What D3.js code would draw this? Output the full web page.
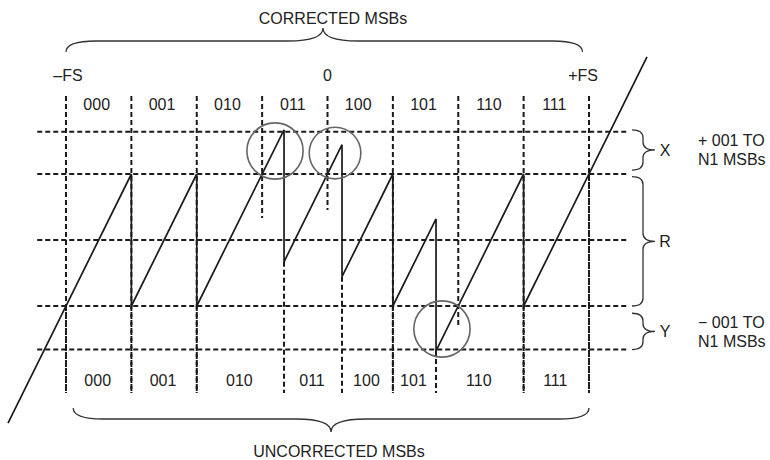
<!DOCTYPE html>
<html>
<head>
<meta charset="utf-8">
<script src="https://cdn.jsdelivr.net/npm/d3@7"></script>
<style>
  html, body { margin: 0; padding: 0; background: #fff; }
  svg text { font-family: "Liberation Sans", Arial, Helvetica, sans-serif; fill: #222; }
</style>
</head>
<body>
<svg id="chart" width="770" height="460"></svg>
<script>
// ---------------- data ----------------
const codeLabels = ["000", "001", "010", "011", "100", "101", "110", "111"];
// corrected (ideal) MSB decision boundaries, in units of one MSB step (-FS = -4, +FS = 4)
const correctedBounds = [-4, -3, -2, -1, 0, 1, 2, 3, 4];
// residue value where each corrected-boundary dashed line stops (bottom end)
const correctedLineEnds = [-0.66, -0.66, -0.66, 0.667, 0.727, -0.66, -0.167, -0.66, -0.66];
// actual (uncorrected) comparator thresholds
const uncorrectedBounds = [-4, -3, -2, -0.665, 0.222, 1, 1.66, 3, 4];
// transfer curve: segment ends (first and last are the ends of the drawn line)
const segmentEnds = [-4.887, -3, -2, -0.665, 0.222, 1, 1.66, 3, 4.887];
// residue offset subtracted in each segment (code value - 4)
const segmentOffsets = [-4, -3, -2, -1, 0, 1, 2, 3];
// horizontal dashed reference levels (residue units, R = 0..1)
const residueLevels = [1.32, 1, 0.5, 0, -0.33];
const gridXExtent = [-4.44, 4.6];
// circled over-range points
const circleMarks = [
  { x: -0.803, res: 1.174, r: 0.43 },
  { x: 0.115, res: 1.159, r: 0.395 },
  { x: 1.751, res: -0.174, r: 0.43 }
];
// scale labels
const fsLabels = ["\u2013FS", "0", "+FS"];
const fsPositions = [-3.97, 0, 3.91];
// right-hand braces
const braceLabels = ["X", "R", "Y"];
const braceRanges = [[1.335, 1.03], [0.98, 0.0], [-0.055, -0.33]];
const sideNotes = [["+ 001 TO", "N1 MSBs"], ["\u2212 001 TO", "N1 MSBs"]];
const topTitle = "CORRECTED MSBs";
const bottomTitle = "UNCORRECTED MSBs";

// ---------------- scales ----------------
const svg = d3.select("#chart");
const x = d3.scaleLinear().domain([-4, 4]).range([66, 589]);
const y = d3.scaleLinear().domain([0, 1]).range([306, 174]);
const TOP_RES = 1.59;   // top of the dashed verticals
const BOT_RES = -0.66;  // bottom of the dashed verticals

const ink = "#1b1b1b";
const dash = "5,3";
const FS = 16;

// ---------------- grid ----------------
const grid = svg.append("g");
grid.selectAll("line.h").data(residueLevels).join("line")
  .attr("x1", x(gridXExtent[0])).attr("x2", x(gridXExtent[1]))
  .attr("y1", d => y(d)).attr("y2", d => y(d))
  .attr("stroke", ink).attr("stroke-width", 2).attr("stroke-dasharray", dash);

grid.selectAll("line.vc").data(correctedBounds).join("line")
  .attr("x1", d => x(d)).attr("x2", d => x(d))
  .attr("y1", y(TOP_RES)).attr("y2", (d, i) => y(correctedLineEnds[i]))
  .attr("stroke", ink).attr("stroke-width", 2).attr("stroke-dasharray", dash);

grid.selectAll("line.vu").data(uncorrectedBounds).join("line")
  .attr("x1", d => x(d)).attr("x2", d => x(d))
  .attr("y1", (d, i) => y(d - segmentOffsets[Math.min(i, 7)]))
  .attr("y2", y(BOT_RES))
  .attr("stroke", ink).attr("stroke-width", 2).attr("stroke-dasharray", dash);

// ---------------- transfer curve ----------------
const pts = [];
segmentOffsets.forEach((off, i) => {
  pts.push([segmentEnds[i], segmentEnds[i] - off]);
  pts.push([segmentEnds[i + 1], segmentEnds[i + 1] - off]);
});
svg.append("path")
  .attr("d", d3.line().x(d => x(d[0])).y(d => y(d[1]))(pts))
  .attr("fill", "none").attr("stroke", ink).attr("stroke-width", 1.7)
  .attr("stroke-linejoin", "miter");

// ---------------- circles ----------------
svg.selectAll("circle.m").data(circleMarks).join("circle")
  .attr("cx", d => x(d.x)).attr("cy", d => y(d.res))
  .attr("r", d => x(d.r) - x(0))
  .attr("fill", "none").attr("stroke", "#666").attr("stroke-width", 1.6);

// ---------------- labels ----------------
const mid = (arr, i) => (arr[i] + arr[i + 1]) / 2;
svg.selectAll("text.tc").data(codeLabels).join("text")
  .attr("x", (d, i) => x(mid(correctedBounds, i)) - 2).attr("y", 110)
  .attr("text-anchor", "middle").attr("font-size", FS).text(d => d);
svg.selectAll("text.bc").data(codeLabels).join("text")
  .attr("x", (d, i) => x(mid(uncorrectedBounds, i)) - 1).attr("y", 386)
  .attr("text-anchor", "middle").attr("font-size", FS).text(d => d);
svg.selectAll("text.fs").data(fsLabels).join("text")
  .attr("x", (d, i) => x(fsPositions[i])).attr("y", 81)
  .attr("text-anchor", "middle").attr("font-size", FS).text(d => d);

svg.append("text").attr("x", 333).attr("y", 24).attr("text-anchor", "middle")
  .attr("font-size", FS).text(topTitle);
svg.append("text").attr("x", 339).attr("y", 457).attr("text-anchor", "middle")
  .attr("font-size", FS).text(bottomTitle);

// ---------------- braces ----------------
function hBrace(x1, x2, yEnd, yFlat, tipX, yTip, q1, q2) {
  return `M${x1},${yEnd} Q${x1},${yFlat} ${x1 + q1},${yFlat} L${tipX - q2},${yFlat}` +
    ` Q${tipX},${yFlat} ${tipX},${yTip} Q${tipX},${yFlat} ${tipX + q2},${yFlat}` +
    ` L${x2 - q1},${yFlat} Q${x2},${yFlat} ${x2},${yEnd}`;
}
function vBrace(x0, xv, xTip, y1, y2, q) {
  const ym = (y1 + y2) / 2;
  return `M${x0},${y1} Q${xv},${y1} ${xv},${y1 + q} L${xv},${ym - q}` +
    ` Q${xv},${ym} ${xTip},${ym} Q${xv},${ym} ${xv},${ym + q}` +
    ` L${xv},${y2 - q} Q${xv},${y2} ${x0},${y2}`;
}
const braceStyle = sel => sel.attr("fill", "none").attr("stroke", "#333").attr("stroke-width", 1.3);

svg.append("path").attr("d", hBrace(x(-4), x(3.9), 52, 41, 323, 28, 30, 35)).call(braceStyle);
svg.append("path").attr("d", hBrace(x(-3.89), x(4), 408, 419, 331, 432, 30, 35)).call(braceStyle);

braceRanges.forEach((r, i) => {
  const y1 = y(r[0]), y2 = y(r[1]);
  svg.append("path").attr("d", vBrace(632, 643, 655, y1, y2, Math.min(8, (y2 - y1) / 4))).call(braceStyle);
  svg.append("text").attr("x", 665).attr("y", (y1 + y2) / 2 + 6)
    .attr("text-anchor", "middle").attr("font-size", FS).text(braceLabels[i]);
});

// side notes
const noteYs = [146, 328];
sideNotes.forEach((lines, i) => {
  lines.forEach((t, j) => {
    svg.append("text").attr("x", 698).attr("y", noteYs[i] + j * 19)
      .attr("font-size", FS).text(t);
  });
});
</script>
</body>
</html>
